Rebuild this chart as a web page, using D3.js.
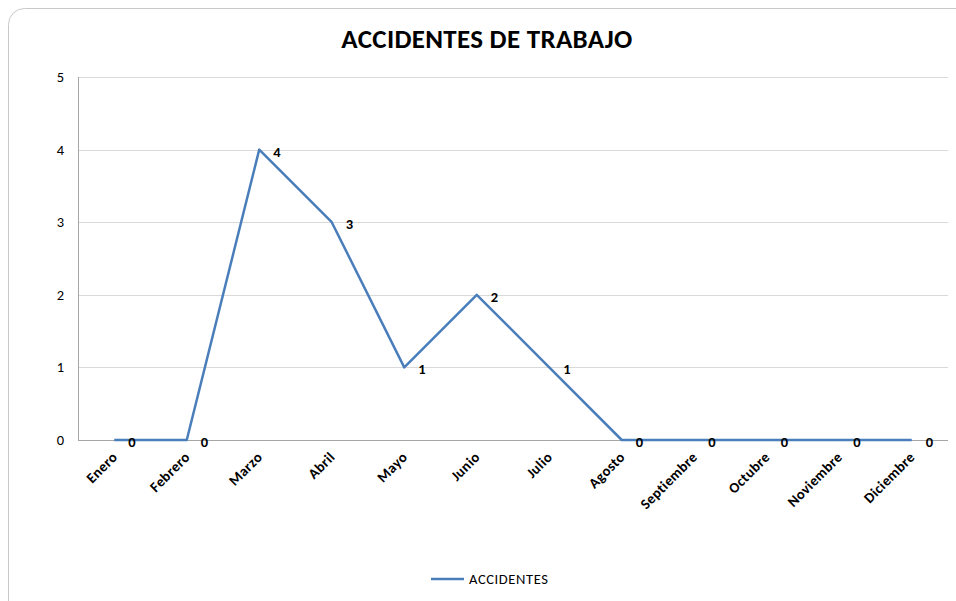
<!DOCTYPE html>
<html lang="es">
<head>
<meta charset="UTF-8">
<title>Accidentes de trabajo</title>
<script src="https://d3js.org/d3.v7.min.js"></script>
<style>
  body { margin: 0; background: #fff; }
  text { font-family: Carlito, Calibri, Lato, "Open Sans", sans-serif; }
</style>
</head>
<body>
<div id="chart"></div>
<script>
// data
const meses = ["Enero", "Febrero", "Marzo", "Abril", "Mayo", "Junio", "Julio",
  "Agosto", "Septiembre", "Octubre", "Noviembre", "Diciembre"];
const accidentes = [0, 0, 4, 3, 1, 2, 1, 0, 0, 0, 0, 0];
const yTicks = [0, 1, 2, 3, 4, 5];

const W = 956, H = 601;
const margin = {top: 77, right: 8, bottom: 161, left: 78};
const width = W - margin.left - margin.right,
      height = H - margin.top - margin.bottom;

const svg = d3.select("#chart").append("svg")
  .attr("width", W).attr("height", H);

// outer frame
svg.append("rect")
  .attr("x", 8.5).attr("y", 8.5)
  .attr("width", 980).attr("height", 620)
  .attr("rx", 16)
  .attr("fill", "none")
  .attr("stroke", "#c8c8c8");

const g = svg.append("g")
  .attr("transform", `translate(${margin.left},${margin.top})`);

const x = d3.scaleBand().domain(meses).range([0, width]);
const y = d3.scaleLinear().domain([0, 5]).range([height, 0]);

// gridlines
g.selectAll(".grid").data(yTicks.slice(1)).join("line")
  .attr("x1", 0).attr("x2", width)
  .attr("y1", d => Math.round(y(d)) + 0.5).attr("y2", d => Math.round(y(d)) + 0.5)
  .attr("stroke", "#d9d9d9");

// y axis
g.append("line")
  .attr("x1", 0.5).attr("x2", 0.5).attr("y1", 0).attr("y2", height)
  .attr("stroke", "#a6a6a6");
g.selectAll(".ylab").data(yTicks).join("text")
  .attr("x", -14).attr("y", d => y(d) + 5)
  .attr("text-anchor", "end")
  .attr("font-size", 14.5)
  .attr("fill", "#000")
  .text(d => d);

// x axis
g.append("line")
  .attr("x1", 0).attr("x2", width)
  .attr("y1", height + 0.5).attr("y2", height + 0.5)
  .attr("stroke", "#a6a6a6");
g.selectAll(".xlab").data(meses).join("text")
  .attr("transform", d => `translate(${x(d) + x.bandwidth() / 2 + 4},${height + 18}) rotate(-45)`)
  .attr("text-anchor", "end")
  .attr("font-size", 14.5)
  .attr("font-weight", "bold")
  .attr("letter-spacing", 0.4)
  .attr("fill", "#000")
  .text(d => d);

// line
const pts = meses.map((m, i) => [x(m) + x.bandwidth() / 2, y(accidentes[i])]);
g.append("path")
  .attr("d", d3.line()(pts))
  .attr("fill", "none")
  .attr("stroke", "#4a7ebb")
  .attr("stroke-width", 2.5)
  .attr("stroke-linejoin", "round");

// data labels
g.selectAll(".dlab").data(accidentes).join("text")
  .attr("x", (d, i) => pts[i][0] + 14)
  .attr("y", (d, i) => pts[i][1] + 7)
  .attr("font-size", 14.5)
  .attr("font-weight", "bold")
  .attr("fill", "#000")
  .text(d => d);

// title
svg.append("text")
  .attr("x", 487).attr("y", 48)
  .attr("text-anchor", "middle")
  .attr("font-size", 27)
  .attr("font-weight", "bold")
  .attr("letter-spacing", 0.3)
  .attr("fill", "#000")
  .text("ACCIDENTES DE TRABAJO");

// legend
const lg = svg.append("g").attr("transform", "translate(431,579)");
lg.append("line").attr("x1", 0).attr("x2", 33).attr("y1", 0).attr("y2", 0)
  .attr("stroke", "#4a7ebb").attr("stroke-width", 2.5);
lg.append("text").attr("x", 38).attr("y", 5)
  .attr("font-size", 14.5).attr("fill", "#000")
  .attr("letter-spacing", 0.6)
  .text("ACCIDENTES");
</script>
</body>
</html>
